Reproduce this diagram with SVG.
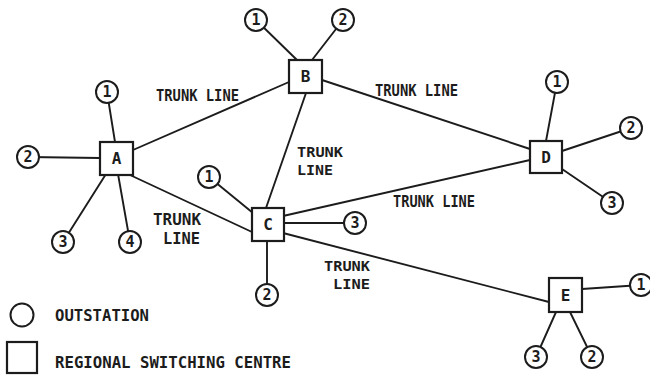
<svg xmlns="http://www.w3.org/2000/svg" width="650" height="375" viewBox="0 0 650 375">
  <style>
    .ln { stroke: #1c1c1c; stroke-width: 1.9; fill: none; stroke-linecap: round; }
    .box { fill: #fff; stroke: #1c1c1c; stroke-width: 2.2; }
    .os { fill: #fff; stroke: #1c1c1c; stroke-width: 2; }
    .t { font-family: "DejaVu Sans Mono", "Liberation Mono", monospace; font-weight: bold; fill: #1c1c1c; }
    .lbl { font-size: 15.5px; }
    .lbl2 { font-size: 14.5px; }
    .nm { font-size: 16px; text-anchor: middle; dominant-baseline: central; }
    .num { font-size: 15px; text-anchor: middle; dominant-baseline: central; }
    .leg { font-size: 15.5px; }
  </style>
  <rect width="650" height="375" fill="#fff"/>

  <!-- connectors: trunk lines and outstation spurs -->
  <g id="connectors">
    <line class="ln" x1="133" y1="150" x2="289" y2="82"/>
    <line class="ln" x1="322" y1="80" x2="530" y2="149"/>
    <line class="ln" x1="306" y1="93" x2="266" y2="208"/>
    <line class="ln" x1="130" y1="175" x2="252" y2="232"/>
    <line class="ln" x1="283" y1="216" x2="530" y2="160"/>
    <line class="ln" x1="283" y1="233" x2="549" y2="302"/>

    <line class="ln" x1="107" y1="92" x2="115" y2="142"/>
    <line class="ln" x1="28" y1="157" x2="100" y2="158"/>
    <line class="ln" x1="63" y1="242" x2="106" y2="174"/>
    <line class="ln" x1="130" y1="242" x2="118" y2="174"/>

    <line class="ln" x1="256" y1="20" x2="297" y2="60"/>
    <line class="ln" x1="343" y1="20" x2="312" y2="60"/>

    <line class="ln" x1="209" y1="177" x2="253" y2="213"/>
    <line class="ln" x1="283" y1="223" x2="355" y2="223"/>
    <line class="ln" x1="267" y1="241" x2="267" y2="295"/>

    <line class="ln" x1="557" y1="82" x2="546" y2="141"/>
    <line class="ln" x1="631" y1="128" x2="562" y2="151"/>
    <line class="ln" x1="612" y1="203" x2="562" y2="169"/>

    <line class="ln" x1="641" y1="285" x2="582" y2="289"/>
    <line class="ln" x1="536" y1="357" x2="556" y2="312"/>
    <line class="ln" x1="592" y1="357" x2="570" y2="312"/>
  </g>

  <!-- trunk line labels -->
  <g id="labels" class="t lbl">
    <text x="156" y="101" textLength="83" lengthAdjust="spacingAndGlyphs">TRUNK LINE</text>
    <text x="375" y="96" textLength="83" lengthAdjust="spacingAndGlyphs">TRUNK LINE</text>
    <text class="lbl2"><tspan x="297" y="157" textLength="46" lengthAdjust="spacingAndGlyphs">TRUNK</tspan><tspan x="297" y="174.5" textLength="36" lengthAdjust="spacingAndGlyphs">LINE</tspan></text>
    <text><tspan x="153" y="225" textLength="48" lengthAdjust="spacingAndGlyphs">TRUNK</tspan><tspan x="163" y="244" textLength="37" lengthAdjust="spacingAndGlyphs">LINE</tspan></text>
    <text x="393" y="207" textLength="82" lengthAdjust="spacingAndGlyphs">TRUNK LINE</text>
    <text class="lbl2"><tspan x="324" y="271" textLength="46" lengthAdjust="spacingAndGlyphs">TRUNK</tspan><tspan x="333" y="288.5" textLength="37" lengthAdjust="spacingAndGlyphs">LINE</tspan></text>
  </g>

  <!-- regional switching centres -->
  <g id="node-A"><rect class="box" x="100" y="142" width="33" height="33"/><text class="t nm" x="116.5" y="158.5">A</text></g>
  <g id="node-B"><rect class="box" x="289" y="60" width="33" height="33"/><text class="t nm" x="305.5" y="76.5">B</text></g>
  <g id="node-C"><rect class="box" x="252" y="208" width="32" height="33"/><text class="t nm" x="268" y="224.5">C</text></g>
  <g id="node-D"><rect class="box" x="530" y="141" width="32" height="32"/><text class="t nm" x="546" y="157">D</text></g>
  <g id="node-E"><rect class="box" x="549" y="278" width="33" height="34"/><text class="t nm" x="565.5" y="295">E</text></g>

  <!-- outstations -->
  <g id="A1"><circle class="os" cx="107" cy="92" r="11"/><text class="t num" x="107" y="92">1</text></g>
  <g id="A2"><circle class="os" cx="28" cy="157" r="11"/><text class="t num" x="28" y="157">2</text></g>
  <g id="A3"><circle class="os" cx="63" cy="242" r="11"/><text class="t num" x="63" y="242">3</text></g>
  <g id="A4"><circle class="os" cx="130" cy="242" r="11"/><text class="t num" x="130" y="242">4</text></g>

  <g id="B1"><circle class="os" cx="256" cy="20" r="11"/><text class="t num" x="256" y="20">1</text></g>
  <g id="B2"><circle class="os" cx="343" cy="20" r="11"/><text class="t num" x="343" y="20">2</text></g>

  <g id="C1"><circle class="os" cx="209" cy="177" r="11"/><text class="t num" x="209" y="177">1</text></g>
  <g id="C3"><circle class="os" cx="355" cy="223" r="11"/><text class="t num" x="355" y="223">3</text></g>
  <g id="C2"><circle class="os" cx="267" cy="295" r="11"/><text class="t num" x="267" y="295">2</text></g>

  <g id="D1"><circle class="os" cx="557" cy="82" r="11"/><text class="t num" x="557" y="82">1</text></g>
  <g id="D2"><circle class="os" cx="631" cy="128" r="11"/><text class="t num" x="631" y="128">2</text></g>
  <g id="D3"><circle class="os" cx="612" cy="203" r="11"/><text class="t num" x="612" y="203">3</text></g>

  <g id="E1"><circle class="os" cx="641" cy="285" r="11"/><text class="t num" x="641" y="285">1</text></g>
  <g id="E3"><circle class="os" cx="536" cy="357" r="11"/><text class="t num" x="536" y="357">3</text></g>
  <g id="E2"><circle class="os" cx="592" cy="357" r="11"/><text class="t num" x="592" y="357">2</text></g>

  <!-- key -->
  <g id="legend">
    <circle class="os" cx="22" cy="315" r="11.5"/>
    <text class="t leg" x="55" y="321" textLength="94" lengthAdjust="spacingAndGlyphs">OUTSTATION</text>
    <rect class="box" x="7" y="342" width="30" height="31"/>
    <text class="t leg" x="55" y="368" textLength="236" lengthAdjust="spacingAndGlyphs">REGIONAL SWITCHING CENTRE</text>
  </g>
</svg>
